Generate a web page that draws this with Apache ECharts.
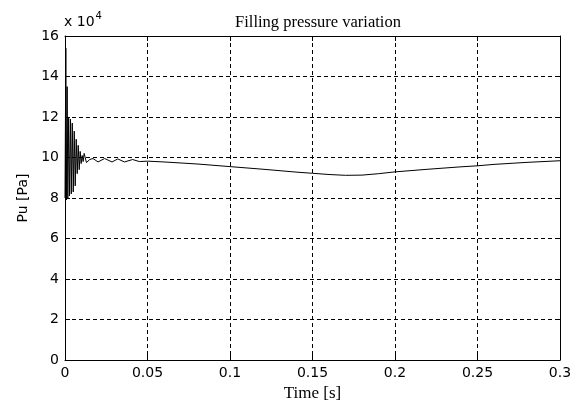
<!DOCTYPE html>
<html>
<head>
<meta charset="utf-8">
<script src="https://cdn.jsdelivr.net/npm/echarts@6/dist/echarts.min.js"></script>
<style>
  html, body { margin: 0; padding: 0; background: #fff; }
  #main { width: 576px; height: 408px; }
</style>
</head>
<body>
<div id="main"></div>
<script>
// time in seconds
var timeS = [
  0, 0.0005, 0.0009, 0.0013, 0.0017, 0.0022, 0.0027, 0.0033, 0.0038, 0.0044,
  0.0050, 0.0056, 0.0062, 0.0068, 0.0074, 0.0080, 0.0086, 0.0092, 0.0098, 0.0104,
  0.0110, 0.0116, 0.0130, 0.0150, 0.0170, 0.0200, 0.0240, 0.0285, 0.0320, 0.0360,
  0.0410, 0.0450, 0.050, 0.060, 0.080, 0.100, 0.120, 0.140, 0.150, 0.160,
  0.170, 0.180, 0.190, 0.200, 0.220, 0.240, 0.250, 0.260, 0.280, 0.300
];
// filling pressure, in units of 10^4 Pa
var pressure = [
  8.0, 15.4, 7.9, 13.5, 8.0, 12.0, 8.1, 11.9, 8.2, 11.7,
  8.3, 11.3, 8.6, 10.9, 9.2, 10.6, 9.4, 10.3, 9.7, 10.1,
  9.8, 10.2, 9.75, 9.9, 9.95, 9.78, 9.95, 9.78, 9.93, 9.78,
  9.9, 9.8, 9.82, 9.78, 9.68, 9.55, 9.42, 9.28, 9.22, 9.16,
  9.12, 9.13, 9.2, 9.29, 9.42, 9.54, 9.59, 9.66, 9.76, 9.84
];
var xTicks = { min: 0, max: 0.3, interval: 0.05 };
var yTicks = { min: 0, max: 16, interval: 2 };

var chart = echarts.init(document.getElementById('main'));

var sans = 'DejaVu Sans';
var serif = 'Liberation Serif';
var dash = [4, 3];

var points = timeS.map(function (t, i) { return [t, pressure[i]]; });

function boxAxis(extra) {
  return Object.assign({
    type: 'value',
    axisLine: { show: true, onZero: false, lineStyle: { color: '#000', width: 1 } },
    axisTick: { show: true, inside: true, length: 5, lineStyle: { color: '#000' } },
    axisLabel: { show: false },
    splitLine: { show: false }
  }, extra);
}

var option = {
  animation: false,
  backgroundColor: '#fff',
  title: {
    text: 'Filling pressure variation',
    left: 313, top: 9, textAlign: 'center',
    textStyle: { fontFamily: serif, fontSize: 16.5, fontWeight: 'normal', color: '#000' }
  },
  graphic: [{
    type: 'text', left: 64, top: 11,
    style: {
      text: '{a|x 10}{b|4}',
      rich: {
        a: { fontFamily: sans, fontSize: 14, fill: '#000', padding: [7, 0, 0, 0] },
        b: { fontFamily: sans, fontSize: 10, fill: '#000', padding: [0, 0, 6, 1] }
      }
    }
  }],
  grid: { left: 65, right: 16, top: 36, bottom: 48 },
  xAxis: [
    boxAxis({
      position: 'bottom', min: xTicks.min, max: xTicks.max, interval: xTicks.interval,
      name: 'Time [s]', nameLocation: 'middle', nameGap: 24,
      nameTextStyle: { fontFamily: serif, fontSize: 17, color: '#000' },
      axisLabel: { show: true, margin: 6, fontFamily: sans, fontSize: 14, color: '#000' },
      splitLine: { show: true, lineStyle: { color: '#000', type: dash, width: 1 } }
    }),
    boxAxis({ position: 'top', min: xTicks.min, max: xTicks.max, interval: xTicks.interval })
  ],
  yAxis: [
    boxAxis({
      position: 'left', min: yTicks.min, max: yTicks.max, interval: yTicks.interval,
      name: 'Pu [Pa]', nameLocation: 'middle', nameGap: 34,
      nameTextStyle: { fontFamily: sans, fontSize: 14, color: '#000' },
      axisLabel: { show: true, margin: 6, fontFamily: sans, fontSize: 14, color: '#000' },
      splitLine: { show: true, lineStyle: { color: '#000', type: dash, width: 1 } }
    }),
    boxAxis({ position: 'right', min: yTicks.min, max: yTicks.max, interval: yTicks.interval })
  ],
  series: [{
    type: 'line',
    data: points,
    showSymbol: false,
    symbol: 'none',
    lineStyle: { color: '#000', width: 1 },
    z: 5
  }]
};

chart.setOption(option);
</script>
</body>
</html>
